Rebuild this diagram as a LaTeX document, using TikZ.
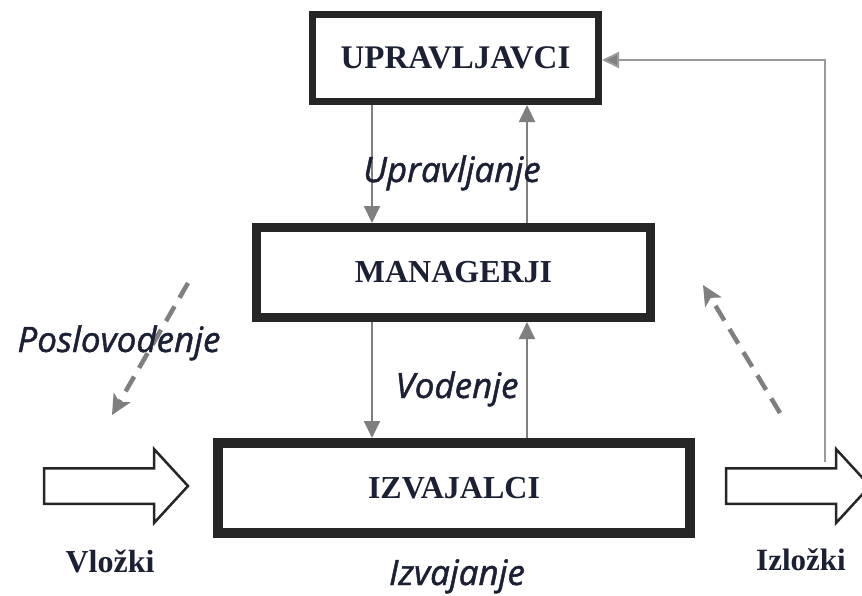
\documentclass[tikz,border=0pt]{standalone}
\usepackage{fontspec}
\setmainfont{Liberation Serif}
\newfontfamily\handfont[FakeBold=1.3]{Open Sans}
\usetikzlibrary{arrows.meta}

\definecolor{ink}{HTML}{1B2035}
\definecolor{boxline}{HTML}{262626}
\definecolor{flowgray}{HTML}{7F7F7F}
\definecolor{linkgray}{HTML}{9A9A9A}

\tikzset{
  levelbox/.style={draw=boxline, fill=white, text=ink, inner sep=0pt,
    font=\fontsize{32}{36}\selectfont\bfseries},
  flow/.style={draw=flowgray, line width=2pt, -{Triangle[length=17pt,width=16pt]}},
  link/.style={draw=linkgray, line width=2pt, -{Triangle[length=17pt,width=16pt,fill=flowgray]}},
  dashflow/.style={draw=flowgray, line width=4.5pt, dash pattern=on 17pt off 10pt,
    -{Stealth[length=20pt,width=19pt,inset=5pt]}},
  hand/.style={font=\handfont\itshape\fontsize{35}{40}\selectfont, text=ink,
    anchor=base, inner sep=0pt},
  iolabel/.style={font=\fontsize{32}{36}\selectfont\bfseries, text=ink,
    anchor=base, inner sep=0pt},
  pics/hollowarrow/.style={code={
    \draw[line width=2.5pt, draw=boxline, fill=white, line join=miter]
      (0,-17.75) -- (110,-17.75) -- (110,-37) -- (144,0) -- (110,37)
      -- (110,17.75) -- (0,17.75) -- cycle;
    \coordinate (-top) at (99,-24);
  }}
}

\begin{document}
\begin{tikzpicture}[x=1pt,y=-1pt]
  \useasboundingbox (0,0) rectangle (862,595);
  \fill[white] (0,0) rectangle (862,595);

  % the three levels
  \node[levelbox, line width=7pt, minimum width=286pt, minimum height=87pt,
    font=\fontsize{33}{37}\selectfont\bfseries]
    (upr) at (455.5,58) {\raisebox{-4.5pt}{UPRAVLJAVCI}};
  \node[levelbox, line width=9pt, minimum width=394pt, minimum height=90pt]
    (man) at (453.5,272.5) {\raisebox{-6.5pt}{MANAGERJI}};
  \node[levelbox, line width=10pt, minimum width=472pt, minimum height=90pt]
    (izv) at (454,488) {\raisebox{-6.5pt}{IZVAJALCI}};

  % columns of the vertical connectors
  \coordinate (xdown) at (372,0);
  \coordinate (xup) at (527,0);

  \draw[flow] (upr.south -| xdown) -- (man.north -| xdown);
  \draw[flow] (man.north -| xup) -- (upr.south -| xup);
  \draw[flow] (man.south -| xdown) -- (izv.north -| xdown);
  \draw[flow] (izv.north -| xup) -- (man.south -| xup);

  % inputs and outputs
  \pic (inarr) at (44,486) {hollowarrow};
  \pic (outarr) at (726,486) {hollowarrow};

  % feedback from outputs to the top level
  \draw[link] (outarr-top) |- ([yshift=-2pt]upr.east);

  % diagonal dashed arrows
  \coordinate (posl-from) at (188,283);
  \coordinate (posl-to) at (112,415);
  \coordinate (ret-from) at (780,413);
  \coordinate (ret-to) at (703,285);
  \draw[dashflow] (posl-from) -- (posl-to);
  \draw[dashflow] (ret-from) -- (ret-to);

  % labels
  \node[hand] (lupr) at (452,182) {Upravljanje};
  \node[hand] (lvod) at (457,398) {Vodenje};
  \node[hand] (lposl) at (119,352) {Poslovodenje};
  \node[hand] (lizv) at (457,585) {Izvajanje};

  \node[iolabel] (lin) at (110,572) {Vložki};
  \node[iolabel, font=\fontsize{31}{35}\selectfont\bfseries] (lout) at (801,570) {Izložki};
\end{tikzpicture}
\end{document}
